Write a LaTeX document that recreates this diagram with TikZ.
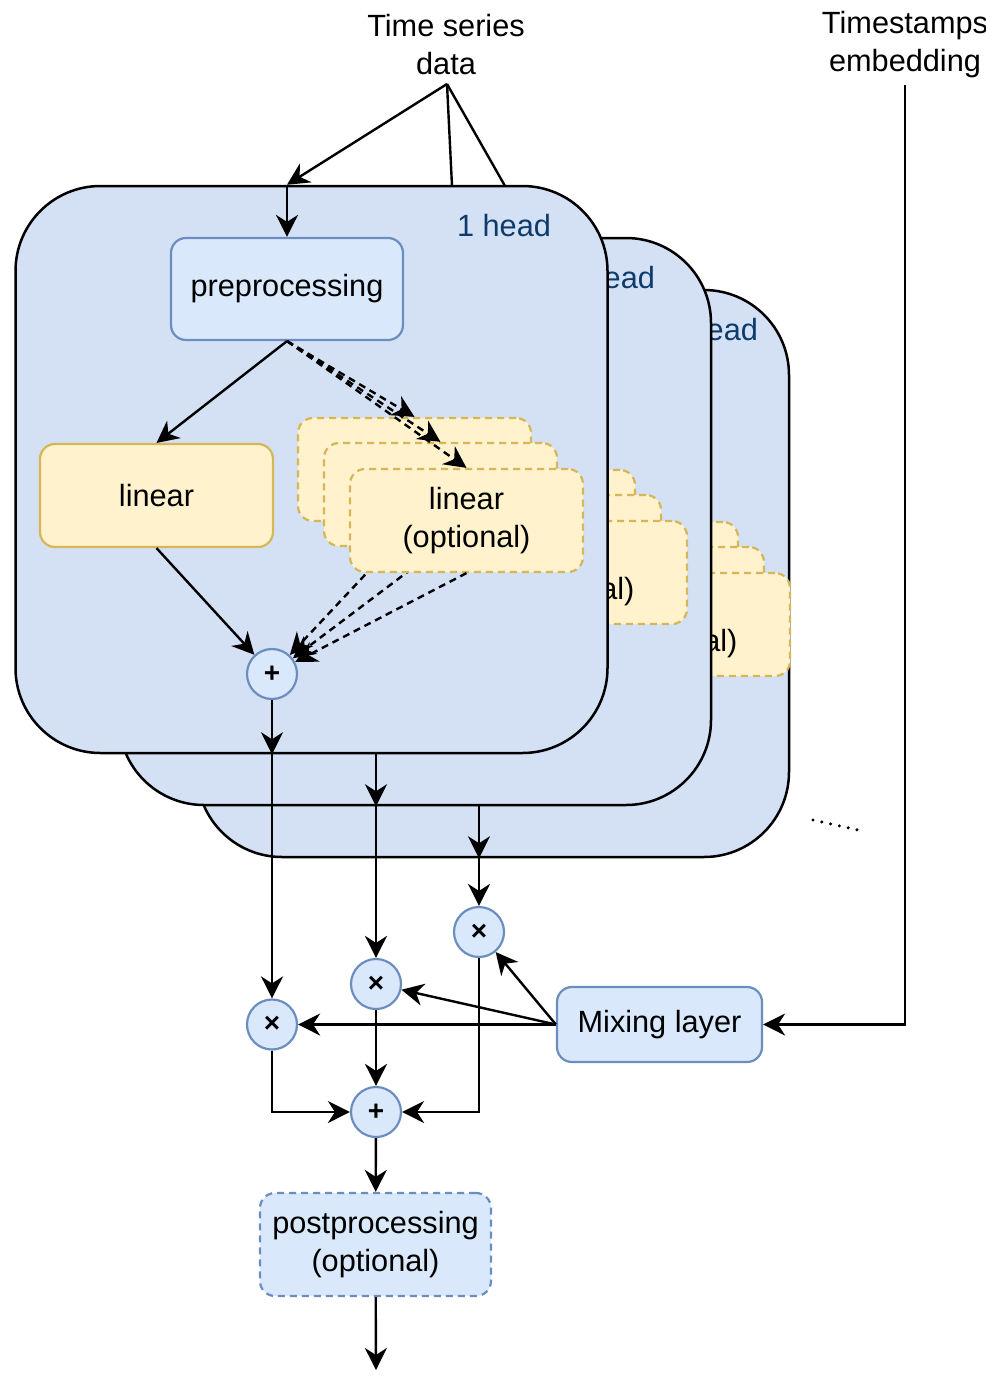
\documentclass[tikz,border=0pt]{standalone}
\usepackage{fontspec}
\setmainfont{Liberation Sans}
\usetikzlibrary{arrows.meta}
\definecolor{headfill}{HTML}{D4E1F5}
\definecolor{bluefill}{HTML}{DAE8FC}
\definecolor{bluedraw}{HTML}{6C8EBF}
\definecolor{yelfill}{HTML}{FFF2CC}
\definecolor{yeldraw}{HTML}{D6B656}
\definecolor{headtext}{HTML}{0D3B6B}
\begin{document}
\begin{tikzpicture}[x=1pt,y=-1pt,
  every node/.style={font=\fontsize{30.7}{38}\selectfont, inner sep=0pt, align=center},
  headbox/.style={draw=black, fill=headfill, line width=2.5pt, rounded corners=85pt,
    minimum width=592pt, minimum height=567pt},
  headlabel/.style={text=headtext},
  bbox/.style={draw=bluedraw, fill=bluefill, line width=2.2pt, rounded corners=15pt,
    minimum width=232pt, minimum height=102pt},
  ybox/.style={draw=yeldraw, fill=yelfill, line width=2.2pt, rounded corners=15pt,
    minimum width=233pt, minimum height=103pt},
  dsh/.style={dash pattern=on 7pt off 5pt},
  op/.style={circle, draw=bluedraw, fill=bluefill, line width=2.2pt, minimum size=50pt,
    font=\fontsize{28}{28}\selectfont\bfseries},
  con/.style={line width=2.4pt, draw=black},
  arr/.style={con, -{Stealth[length=22pt,width=22pt,inset=7pt]}},
]
\useasboundingbox (0,0) rectangle (985,1381);

% heads, back to front
\foreach \i/\hx/\hy/\dx/\dy in {3/493/573.5/207/104, 2/415/521.5/104/52, 1/311.5/469.5/0/0} {
  \node[headbox] (h\i) at (\hx,\hy) {};
  \begin{scope}[shift={(\dx,\dy)}]
    \node[headlabel] (lab\i) at (504,226) {1 head};
    \node[bbox] (pre\i) at (287,289) {preprocessing};
    \node[ybox] (lin\i) at (156.5,495.5) {linear};
    \node[op] (p\i) at (272,674) {+};
    \draw[arr] (pre\i.north |- h\i.north) -- (pre\i.north);
    \draw[arr] (pre\i.south) -- (lin\i.north);
    \draw[arr] (lin\i.south) -- (p\i);
    \node[ybox, dsh] (oa\i) at (414.5,469.5) {};
    \draw[arr, dsh] (oa\i.south) -- (p\i);
    \draw[arr, dsh] (pre\i.south) -- (oa\i.north);
    \node[ybox, dsh] (ob\i) at (440.5,494.5) {};
    \draw[arr, dsh] (ob\i.south) -- (p\i);
    \draw[arr, dsh] (pre\i.south) -- (ob\i.north);
    \node[ybox, dsh] (oc\i) at (466.5,520.5) {linear\\(optional)};
    \draw[arr, dsh] (oc\i.south) -- (p\i);
    \draw[arr, dsh] (pre\i.south) -- (oc\i.north);
    \draw[arr] (p\i) -- (p\i |- h\i.south);
  \end{scope}
}

% inputs
\node (ts) at (446,45) {Time series\\data};
\coordinate (tsj) at (447,84);
\coordinate (t2) at (452,186);
\coordinate (t3) at (505,186);
\draw[arr] (tsj) -- (pre1.north |- h1.north);
\draw[con] (tsj) -- (t2);
\draw[con] (tsj) -- (t3);

\node (te) at (905,45) {Timestamps\\embedding};
\coordinate (tej) at (905,85);

% mixing part
\node[bbox, minimum width=205pt, minimum height=75pt] (mix) at (659.5,1024.5) {Mixing layer};
\node[op] (c1) at (272,1024.5) {×};
\node[op] (c2) at (376,984) {×};
\node[op] (c3) at (479,932) {×};
\node[op] (s) at (376,1112) {+};
\node[bbox, dsh, minimum width=231pt, minimum height=103pt] (post) at (375.5,1244.5) {postprocessing\\(optional)};
\coordinate (out) at (376,1370);

\draw[arr] (tej) |- (mix.east);
\draw[arr] (p1 |- h1.south) -- (c1);
\draw[arr] (p2 |- h2.south) -- (c2);
\draw[arr] (p3 |- h3.south) -- (c3);
\draw[arr] (mix.west) -- (c1.east);
\draw[arr] (mix.west) -- (c2);
\draw[arr] (mix.west) -- (c3);
\draw[arr] (c1.south) |- (s.west);
\draw[arr] (c3.south) |- (s.east);
\draw[arr] (c2) -- (s);
\draw[arr] (s) -- (post);
\draw[arr] (post) -- (out);

% more heads hint
\coordinate (d1) at (813,820);
\coordinate (d2) at (858,830);
\draw[line width=3.4pt, line cap=round, dash pattern=on 0pt off 9pt] (d1) -- (d2);
\end{tikzpicture}
\end{document}
